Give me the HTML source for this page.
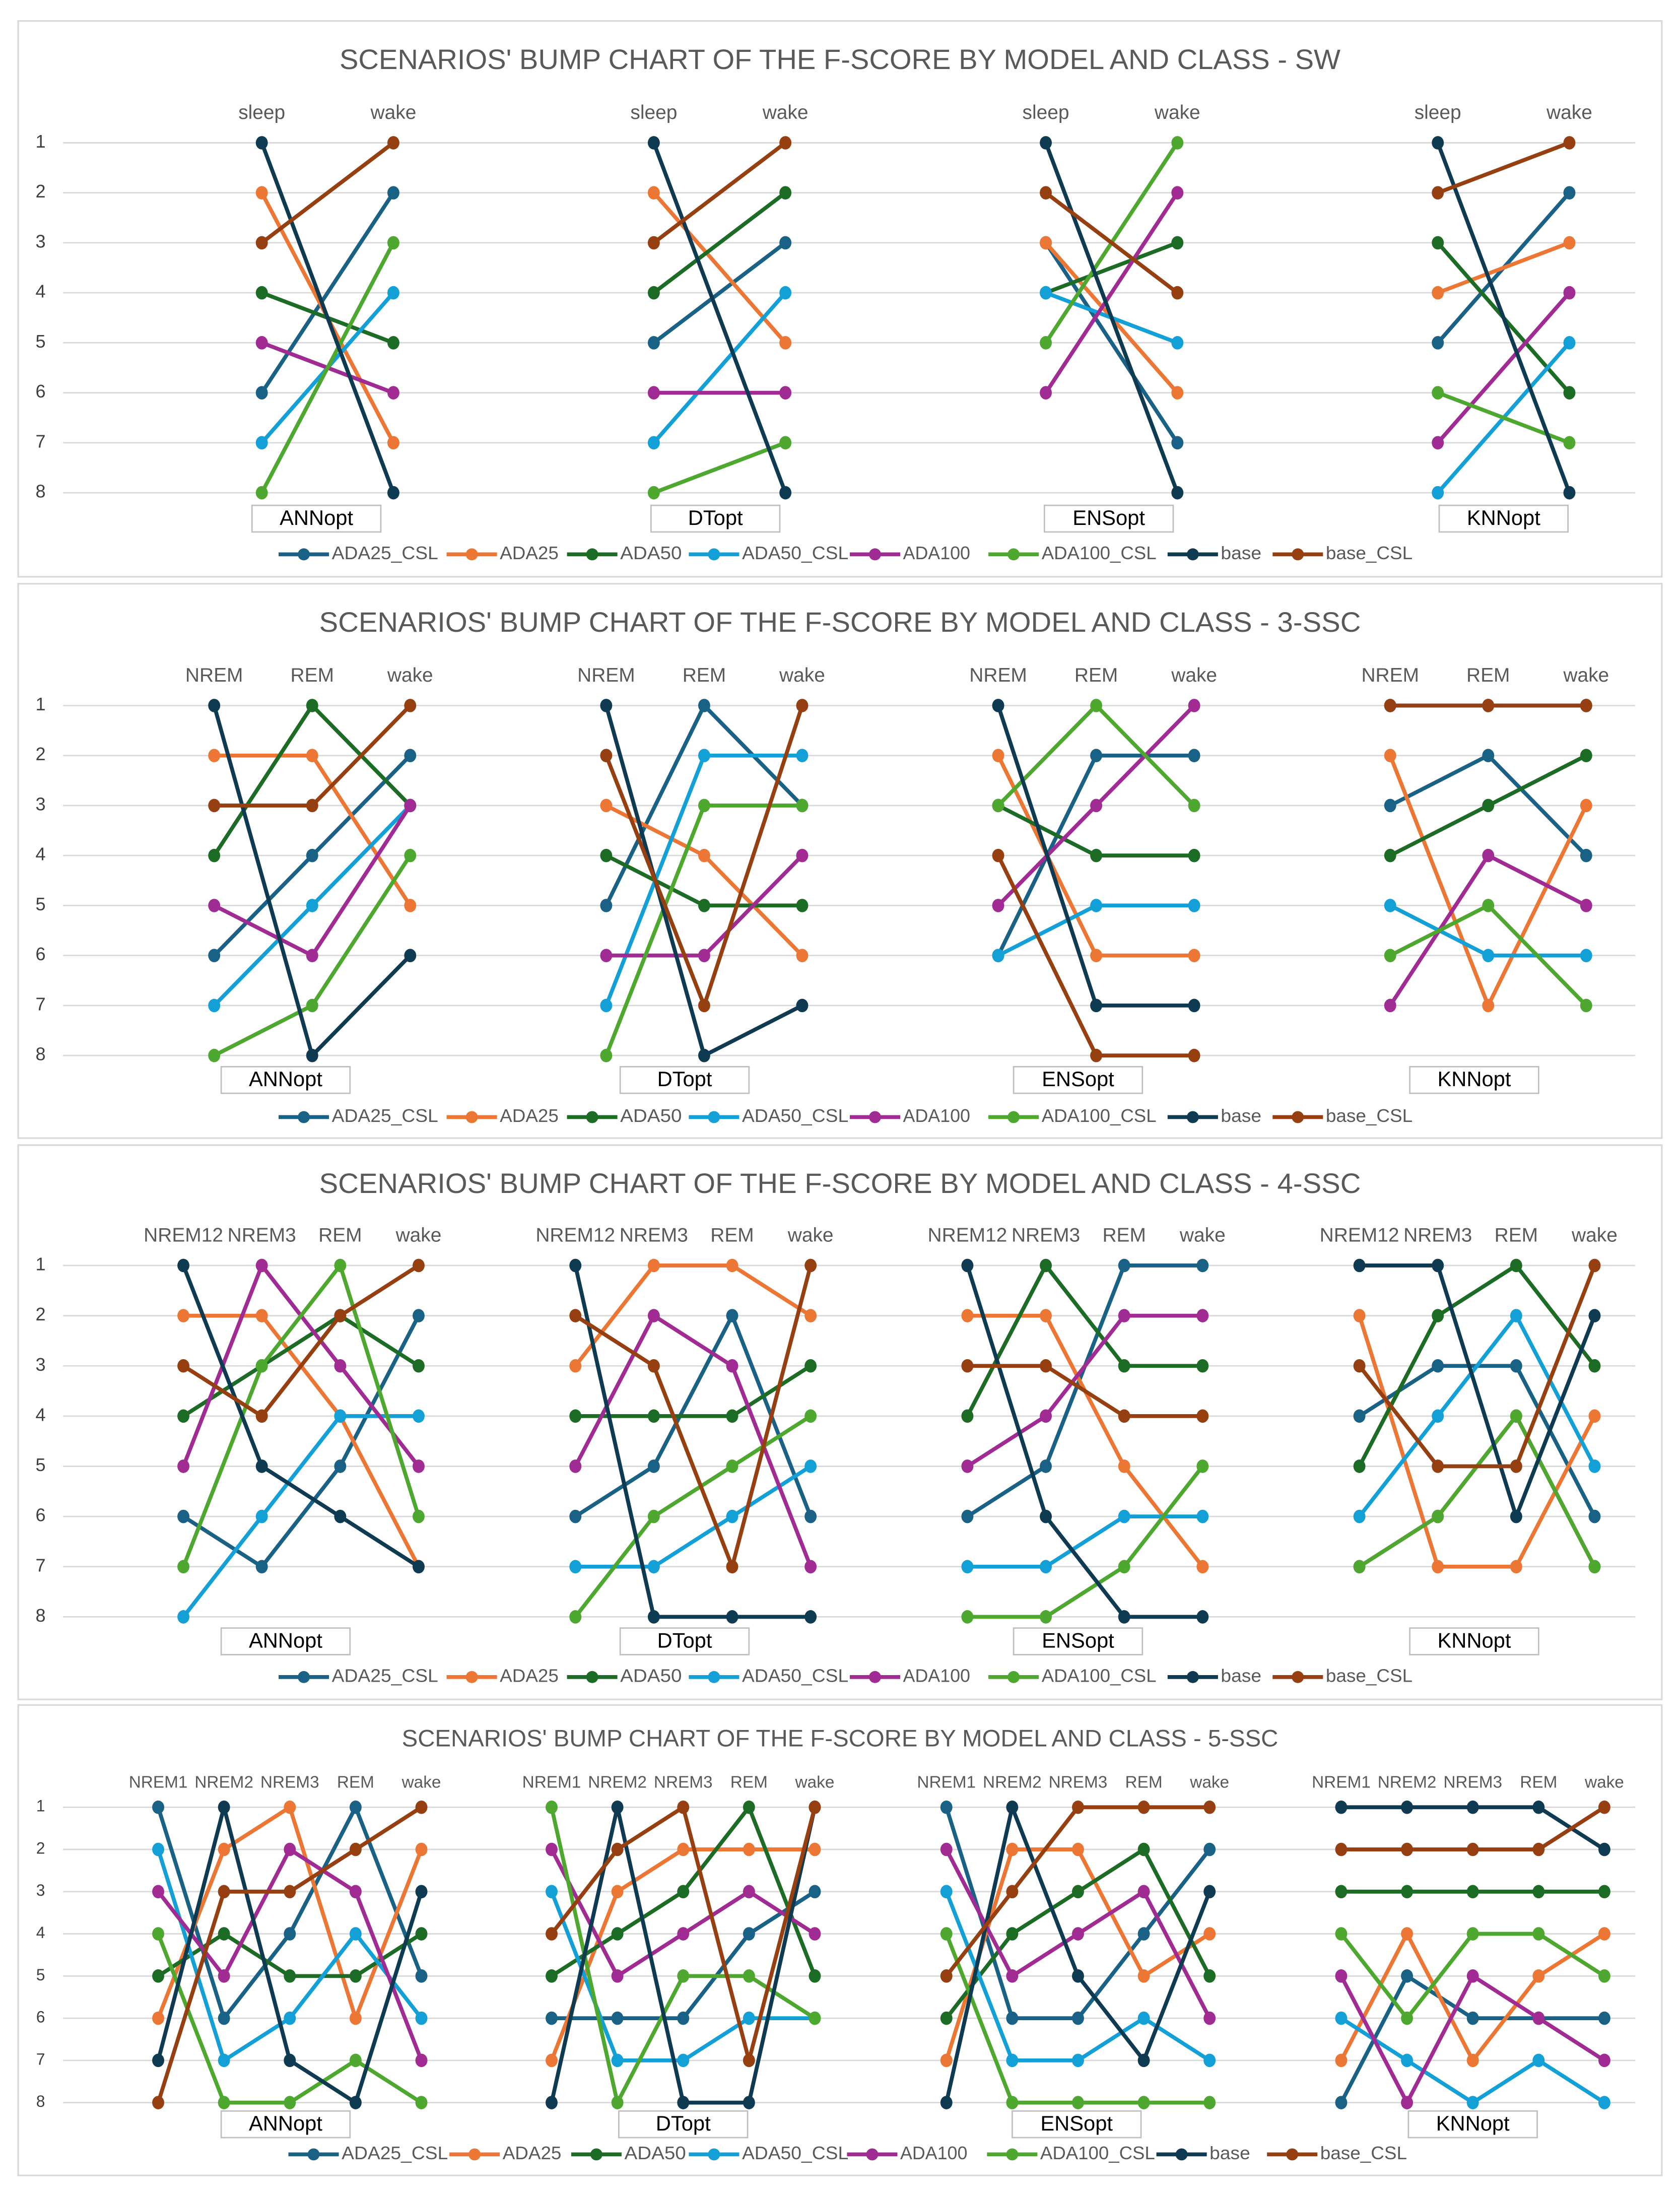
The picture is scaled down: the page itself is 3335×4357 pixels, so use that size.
<!DOCTYPE html>
<html><head><meta charset="utf-8">
<style>
html,body{margin:0;padding:0;background:#fff;}
svg{display:block;}
text{font-family:"Liberation Sans",sans-serif;}
</style></head>
<body>
<svg id="chart" xmlns="http://www.w3.org/2000/svg" width="3335" height="4357" viewBox="0 0 1200 1568" preserveAspectRatio="none"></svg>
<script>
const seriesNames = ["ADA25_CSL","ADA25","ADA50","ADA50_CSL","ADA100","ADA100_CSL","base","base_CSL"];
const seriesColors = ["#1a6186","#ec7634","#1d6c25","#12a0d7","#a02b93","#4ea72e","#0e3a52","#963f10"];
const modelNames = ["ANNopt","DTopt","ENSopt","KNNopt"];
const rankTicks = [1,2,3,4,5,6,7,8];

const swCats = ["sleep","wake"];
const ssc3Cats = ["NREM","REM","wake"];
const ssc4Cats = ["NREM12","NREM3","REM","wake"];
const ssc5Cats = ["NREM1","NREM2","NREM3","REM","wake"];

// ranks[series][category]
const swANN = [[6,2],[2,7],[4,5],[7,4],[5,6],[8,3],[1,8],[3,1]];
const swDT  = [[5,3],[2,5],[4,2],[7,4],[6,6],[8,7],[1,8],[3,1]];
const swENS = [[3,7],[3,6],[4,3],[4,5],[6,2],[5,1],[1,8],[2,4]];
const swKNN = [[5,2],[4,3],[3,6],[8,5],[7,4],[6,7],[1,8],[2,1]];

const s3ANN = [[6,4,2],[2,2,5],[4,1,3],[7,5,3],[5,6,3],[8,7,4],[1,8,6],[3,3,1]];
const s3DT  = [[5,1,3],[3,4,6],[4,5,5],[7,2,2],[6,6,4],[8,3,3],[1,8,7],[2,7,1]];
const s3ENS = [[6,2,2],[2,6,6],[3,4,4],[6,5,5],[5,3,1],[3,1,3],[1,7,7],[4,8,8]];
const s3KNN = [[3,2,4],[2,7,3],[4,3,2],[5,6,6],[7,4,5],[6,5,7],[1,1,1],[1,1,1]];

const s4ANN = [[6,7,5,2],[2,2,4,7],[4,3,2,3],[8,6,4,4],[5,1,3,5],[7,3,1,6],[1,5,6,7],[3,4,2,1]];
const s4DT  = [[6,5,2,6],[3,1,1,2],[4,4,4,3],[7,7,6,5],[5,2,3,7],[8,6,5,4],[1,8,8,8],[2,3,7,1]];
const s4ENS = [[6,5,1,1],[2,2,5,7],[4,1,3,3],[7,7,6,6],[5,4,2,2],[8,8,7,5],[1,6,8,8],[3,3,4,4]];
const s4KNN = [[4,3,3,6],[2,7,7,4],[5,2,1,3],[6,4,2,5],[7,6,4,7],[7,6,4,7],[1,1,6,2],[3,5,5,1]];

const s5ANN = [[1,6,4,1,5],[6,2,1,6,2],[5,4,5,5,4],[2,7,6,4,6],[3,5,2,3,7],[4,8,8,7,8],[7,1,7,8,3],[8,3,3,2,1]];
const s5DT  = [[6,6,6,4,3],[7,3,2,2,2],[5,4,3,1,5],[3,7,7,6,6],[2,5,4,3,4],[1,8,5,5,6],[8,1,8,8,1],[4,2,1,7,1]];
const s5ENS = [[1,6,6,4,2],[7,2,2,5,4],[6,4,3,2,5],[3,7,7,6,7],[2,5,4,3,6],[4,8,8,8,8],[8,1,5,7,3],[5,3,1,1,1]];
const s5KNN = [[8,5,6,6,6],[7,4,7,5,4],[3,3,3,3,3],[6,7,8,7,8],[5,8,5,6,7],[4,6,4,4,5],[1,1,1,1,2],[2,2,2,2,1]];

const NS = "http://www.w3.org/2000/svg";
const svg = document.getElementById("chart");
function mk(tag, attrs, parent){
  const e = document.createElementNS(NS, tag);
  for (const k in attrs) e.setAttribute(k, attrs[k]);
  (parent||svg).appendChild(e);
  return e;
}

const legW = [76,42,44,76,48,82,29,62];

const panels = [
  {key:"sw", title:"SCENARIOS' BUMP CHART OF THE F-SCORE BY MODEL AND CLASS - SW", box:[13,15,1174,397], titleY:44, titleSize:20, titleW:715,
   catY:85, r1:102, r8:352, cats:swCats, data:[swANN,swDT,swENS,swKNN], x0:[187,467,747,1027], dx:94, boxY:361, boxC:[226,511,792,1074], legY:396, tick:13, catSize:14,
   leg:[237,357,443,530,645,744,872,947]},
  {key:"ssc3", title:"SCENARIOS' BUMP CHART OF THE F-SCORE BY MODEL AND CLASS - 3-SSC", box:[13,417,1174,396], titleY:446, titleSize:20, titleW:744,
   catY:487, r1:504, r8:754, cats:ssc3Cats, data:[s3ANN,s3DT,s3ENS,s3KNN], x0:[153,433,713,993], dx:70, boxY:762, boxC:[204,489,770,1053], legY:798, tick:13, catSize:14,
   leg:[237,357,443,530,645,744,872,947]},
  {key:"ssc4", title:"SCENARIOS' BUMP CHART OF THE F-SCORE BY MODEL AND CLASS - 4-SSC", box:[13,818,1174,396], titleY:847, titleSize:20, titleW:744,
   catY:887, r1:904, r8:1155, cats:ssc4Cats, data:[s4ANN,s4DT,s4ENS,s4KNN], x0:[131,411,691,971], dx:56, boxY:1163, boxC:[204,489,770,1053], legY:1198, tick:13, catSize:14,
   leg:[237,357,443,530,645,744,872,947]},
  {key:"ssc5", title:"SCENARIOS' BUMP CHART OF THE F-SCORE BY MODEL AND CLASS - 5-SSC", box:[13,1218,1174,336], titleY:1243, titleSize:17, titleW:626,
   catY:1277, r1:1291, r8:1502, cats:ssc5Cats, data:[s5ANN,s5DT,s5ENS,s5KNN], x0:[113,394,676,958], dx:47, boxY:1508, boxC:[204,488,769,1052], legY:1539, tick:11.5, catSize:12,
   leg:[244,359,446,530,643,743,864,943]}
];

panels.forEach(p => {
  const g = mk("g", {});
  
  
  const [bx,by,bw,bh] = p.box;
  const frame = mk("rect", {x:bx, y:by, width:bw, height:bh, fill:"#fff", stroke:"#d9d9d9", "stroke-width":1.2}, g);
  
  
  const t = mk("text", {x:600, y:p.titleY, "text-anchor":"middle", "dominant-baseline":"middle", "font-size":p.titleSize, fill:"#595959", textLength:p.titleW, lengthAdjust:"spacingAndGlyphs"}, g);
  t.textContent = p.title;
  
  

  const yScale = r => p.r1 + (r - 1) * (p.r8 - p.r1) / 7;

  rankTicks.forEach(r => {
    const gl = mk("line", {x1:45, x2:1168, y1:yScale(r), y2:yScale(r), stroke:"#d9d9d9", "stroke-width":1}, g);
    
    
    const tl = mk("text", {x:29, y:yScale(r), "text-anchor":"middle", "dominant-baseline":"middle", "font-size":p.tick, fill:"#404040"}, g);
    tl.textContent = r;
    
    
  });

  p.data.forEach((ranks, mi) => {
    const xScale = ci => p.x0[mi] + ci * p.dx;
    const mg = mk("g", {}, g);
    
    
    p.cats.forEach((c, ci) => {
      const ct = mk("text", {x:xScale(ci), y:p.catY, "text-anchor":"middle", "font-size":p.catSize, fill:"#595959"}, mg);
      ct.textContent = c;
      
      
    });
    ranks.forEach((vals, si) => {
      const pts = vals.map((v, ci) => xScale(ci) + "," + yScale(v)).join(" ");
      const pl = mk("polyline", {points:pts, fill:"none", stroke:seriesColors[si], "stroke-width":2.8, "stroke-linejoin":"round"}, mg);
      
      
      vals.forEach((v, ci) => {
        const dot = mk("ellipse", {cx:xScale(ci), cy:yScale(v), rx:4.3, ry:4.8, fill:seriesColors[si]}, mg);
        
        
      });
    });
    const cx = p.boxC[mi];
    const lb = mk("rect", {x:cx - 46, y:p.boxY, width:92, height:19, fill:"#fff", stroke:"#bfbfbf", "stroke-width":1}, mg);
    
    
    const lt = mk("text", {x:cx, y:p.boxY + 10, "text-anchor":"middle", "dominant-baseline":"middle", "font-size":15, fill:"#000"}, mg);
    lt.textContent = modelNames[mi];
    
    
  });

  const lg = mk("g", {}, g);
  
  
  seriesNames.forEach((n, si) => {
    const tx = p.leg[si];
    const eg = mk("g", {}, lg);
    
    
    mk("line", {x1:tx - 38, x2:tx - 2, y1:p.legY, y2:p.legY, stroke:seriesColors[si], "stroke-width":2.8}, eg);
    mk("circle", {cx:tx - 20, cy:p.legY, r:4.3, fill:seriesColors[si]}, eg);
    const et = mk("text", {x:tx, y:p.legY, "dominant-baseline":"middle", "font-size":13, fill:"#595959", textLength:legW[si], lengthAdjust:"spacingAndGlyphs"}, eg);
    et.textContent = n;
  });
});
</script>
</body></html>
